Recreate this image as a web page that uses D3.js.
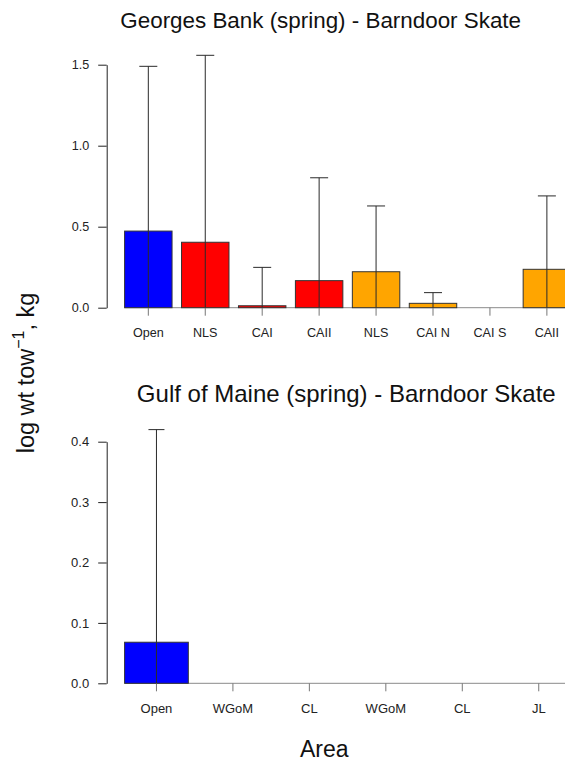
<!DOCTYPE html>
<html>
<head>
<meta charset="utf-8">
<script src="https://cdn.jsdelivr.net/npm/d3@7"></script>
<style>
  html, body { margin: 0; padding: 0; background: #fff; }
  svg { display: block; font-family: "Liberation Sans", Arial, Helvetica, sans-serif; }
</style>
</head>
<body>
<svg id="chart" width="565" height="766"></svg>
<script>
// Georges Bank, spring survey
const gbAreas   = ["Open", "NLS", "CAI", "CAII", "NLS", "CAI N", "CAI S", "CAII"];
const gbType    = [0, 1, 1, 1, 2, 2, 2, 2];
const gbMean    = [0.473, 0.404, 0.012, 0.167, 0.222, 0.027, 0, 0.237];
const gbUpper   = [1.49, 1.558, 0.249, 0.802, 0.628, 0.093, 0, 0.69];
const gbTicks   = [0, 0.5, 1.0, 1.5];

// Gulf of Maine, spring survey
const gomAreas  = ["Open", "WGoM", "CL", "WGoM", "CL", "JL"];
const gomType   = [0, 1, 1, 2, 2, 2];
const gomMean   = [0.068, 0, 0, 0, 0, 0];
const gomUpper  = [0.42, 0, 0, 0, 0, 0];
const gomTicks  = [0, 0.1, 0.2, 0.3, 0.4];

const typeColor = d3.scaleOrdinal().domain([0, 1, 2]).range(["#0000FF", "#FF0000", "#FFA500"]);

const svg = d3.select("#chart");

function panel(opts) {
  const { areas, type, mean, upper, ticks, yTop, yBase, title, titleX, titleY, titleSize,
          fontSize, capHalf } = opts;
  const n = areas.length;
  const x = d3.scaleBand()
    .domain(d3.range(n))
    .range([124.6, 570.6])
    .paddingInner(1 / 6)
    .paddingOuter(0);
  const y = d3.scaleLinear().domain([0, d3.max(ticks)]).range([yBase, yTop]);

  const g = svg.append("g");

  // title
  g.append("text")
    .attr("x", titleX).attr("y", titleY)
    .attr("text-anchor", "middle")
    .attr("font-size", titleSize)
    .attr("fill", "#111")
    .text(title);

  // baseline at zero
  g.append("line")
    .attr("x1", x(0)).attr("x2", 565)
    .attr("y1", y(0)).attr("y2", y(0))
    .attr("stroke", "#8a8a8a").attr("stroke-width", 1);

  // bars
  const idx = d3.range(n).filter(i => mean[i] > 0);
  g.selectAll("rect.bar").data(idx).join("rect")
    .attr("class", "bar")
    .attr("x", i => x(i))
    .attr("width", x.bandwidth())
    .attr("y", i => y(mean[i]))
    .attr("height", i => y(0) - y(mean[i]))
    .attr("fill", i => typeColor(type[i]))
    .attr("stroke", "#333")
    .attr("stroke-width", 1);

  // x axis: ticks at bar centres, no axis line
  const xAxis = d3.axisBottom(x)
    .tickSize(8)
    .tickPadding(12)
    .tickFormat(i => areas[i]);
  const xg = g.append("g")
    .attr("transform", `translate(0,${y(0)})`)
    .call(xAxis);
  xg.select(".domain").remove();
  xg.selectAll(".tick line").attr("stroke", "#777");
  xg.selectAll(".tick text")
    .attr("font-size", fontSize)
    .attr("font-family", "Liberation Sans, Arial, sans-serif")
    .attr("fill", "#222");

  // error bars (upper limit with cap)
  const eb = d3.range(n).filter(i => upper[i] > 0);
  g.selectAll("line.err").data(eb).join("line")
    .attr("class", "err")
    .attr("x1", i => x(i) + x.bandwidth() / 2)
    .attr("x2", i => x(i) + x.bandwidth() / 2)
    .attr("y1", y(0))
    .attr("y2", i => y(upper[i]))
    .attr("stroke", "#2a2a2a").attr("stroke-width", 1);
  g.selectAll("line.cap").data(eb).join("line")
    .attr("class", "cap")
    .attr("x1", i => x(i) + x.bandwidth() / 2 - capHalf)
    .attr("x2", i => x(i) + x.bandwidth() / 2 + capHalf)
    .attr("y1", i => y(upper[i]))
    .attr("y2", i => y(upper[i]))
    .attr("stroke", "#2a2a2a").attr("stroke-width", 1);

  // y axis
  const yAxis = d3.axisLeft(y)
    .tickValues(ticks)
    .tickFormat(d3.format(".1f"))
    .tickSize(8.5)
    .tickSizeOuter(0)
    .tickPadding(9);
  const yg = g.append("g")
    .attr("transform", "translate(106.7,0)")
    .call(yAxis);
  yg.select(".domain").attr("stroke", "#222");
  yg.selectAll(".tick line").attr("stroke", "#222");
  yg.selectAll(".tick text")
    .attr("font-size", fontSize)
    .attr("font-family", "Liberation Sans, Arial, sans-serif")
    .attr("fill", "#222");
}

panel({
  areas: gbAreas, type: gbType, mean: gbMean, upper: gbUpper, ticks: gbTicks,
  yTop: 64.7, yBase: 307.7,
  title: "Georges Bank (spring) - Barndoor Skate",
  titleX: 320.7, titleY: 28.3, titleSize: 22.4,
  fontSize: 12.6, capHalf: 9
});

panel({
  areas: gomAreas, type: gomType, mean: gomMean, upper: gomUpper, ticks: gomTicks,
  yTop: 441.7, yBase: 683.3,
  title: "Gulf of Maine (spring) - Barndoor Skate",
  titleX: 346.3, titleY: 402.3, titleSize: 24,
  fontSize: 13, capHalf: 8
});

// shared axis titles
const yl = svg.append("text")
  .attr("transform", "translate(34,373) rotate(-90)")
  .attr("text-anchor", "middle")
  .attr("font-size", 23.5)
  .attr("fill", "#111");
yl.append("tspan").text("log wt tow");
yl.append("tspan").attr("dy", -10).attr("font-size", 16).text("\u22121");
yl.append("tspan").attr("dy", 10).text(", kg");

svg.append("text")
  .attr("x", 324.2).attr("y", 757.3)
  .attr("text-anchor", "middle")
  .attr("font-size", 23)
  .attr("fill", "#111")
  .text("Area");
</script>
</body>
</html>
